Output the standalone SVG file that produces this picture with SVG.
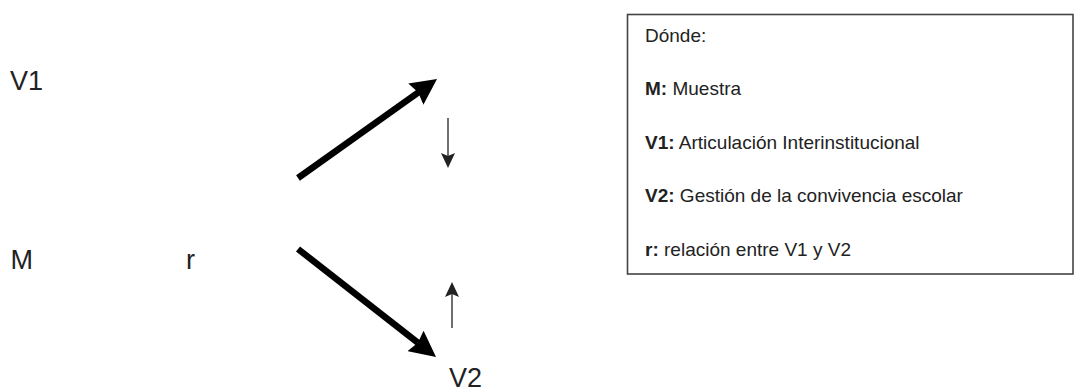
<svg xmlns="http://www.w3.org/2000/svg" width="1075" height="388" viewBox="0 0 1075 388">
  <style>
    .lbl { font-family: "Liberation Sans", Arial, sans-serif; font-size: 27px; fill: #222; }
    .leg { font-family: "Liberation Sans", Arial, sans-serif; font-size: 19px; fill: #222; }
    .b { font-weight: bold; }
    .big { stroke: #000; stroke-width: 6.5; fill: none; }
    .thin { stroke: #333; stroke-width: 1.4; fill: none; }
  </style>
  <defs>
    <marker id="bigHead" markerUnits="userSpaceOnUse" markerWidth="28" markerHeight="26" viewBox="0 0 28 26" refX="4" refY="13" orient="auto">
      <path d="M0,0 L26,13 L0,26 L3,13 z" fill="#000"/>
    </marker>
    <marker id="smallHead" markerUnits="userSpaceOnUse" markerWidth="16" markerHeight="14" viewBox="0 0 16 14" refX="3" refY="7" orient="auto">
      <path d="M0,0 L15,7 L0,14 L3,7 z" fill="#222"/>
    </marker>
  </defs>
  <rect width="1075" height="388" fill="#fff"/>

  <g id="node-V1"><text class="lbl" x="10" y="89.5">V1</text></g>
  <g id="node-M"><text class="lbl" x="10.5" y="269">M</text></g>
  <g id="node-r"><text class="lbl" x="186" y="269">r</text></g>
  <g id="node-V2"><text class="lbl" x="449" y="387">V2</text></g>

  <g id="connectors">
    <line class="big" x1="298" y1="178" x2="419.1" y2="91.8" marker-end="url(#bigHead)"/>
    <line class="big" x1="298" y1="249" x2="418.7" y2="343.4" marker-end="url(#bigHead)"/>
    <line class="thin" x1="448" y1="118" x2="448" y2="156" marker-end="url(#smallHead)"/>
    <line class="thin" x1="452" y1="328" x2="452" y2="294" marker-end="url(#smallHead)"/>
  </g>

  <g id="legend">
    <rect x="627.5" y="14.5" width="445.5" height="259.5" fill="#fff" stroke="#444" stroke-width="1.6"/>
    <text class="leg" x="645" y="41.7">Dónde:</text>
    <text class="leg" x="645" y="95.2"><tspan class="b">M:</tspan> Muestra</text>
    <text class="leg" x="645" y="148.7"><tspan class="b">V1:</tspan> Articulación Interinstitucional</text>
    <text class="leg" x="645" y="202.2"><tspan class="b">V2:</tspan> Gestión de la convivencia escolar</text>
    <text class="leg" x="645" y="255.7"><tspan class="b">r:</tspan> relación entre V1 y V2</text>
  </g>
</svg>
